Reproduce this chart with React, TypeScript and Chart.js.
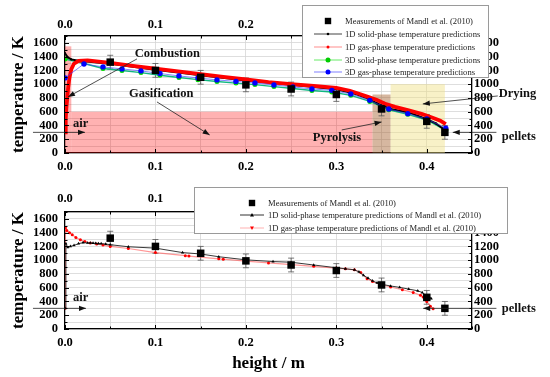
import React, { useEffect, useRef } from 'react';
import { Chart, registerables } from 'chart.js';

Chart.register(...registerables);

// ---------------- data ----------------
const measX = [0.05, 0.1, 0.15, 0.2, 0.25, 0.3, 0.35, 0.4, 0.42];
const measT = [1320, 1200, 1100, 990, 930, 850, 640, 460, 300];
const measErr = [100, 100, 100, 100, 100, 100, 100, 100, 100];

// top chart: own predictions
const solid1dX = [0, 0.003, 0.007, 0.015, 0.05, 0.1, 0.15, 0.2, 0.25, 0.3, 0.32, 0.335, 0.345, 0.36, 0.38, 0.4, 0.41, 0.42];
const solid1dT = [1450, 1390, 1360, 1340, 1295, 1210, 1130, 1055, 990, 925, 865, 790, 720, 640, 590, 490, 430, 335];

const gas1dX = [0, 0.0008, 0.0015, 0.0025, 0.0035, 0.005, 0.007, 0.01, 0.015, 0.025, 0.05, 0.075, 0.1, 0.125, 0.15, 0.175, 0.2, 0.225, 0.25, 0.275, 0.3, 0.315, 0.325, 0.335, 0.345, 0.355, 0.365, 0.38, 0.395, 0.405, 0.415, 0.421];
const gas1dT = [300, 500, 650, 800, 950, 1100, 1220, 1300, 1340, 1345, 1310, 1265, 1225, 1185, 1145, 1105, 1069, 1030, 1000, 975, 945, 905, 860, 815, 770, 710, 670, 620, 565, 520, 470, 420];

const gas3dX = [0, 0.021, 0.042, 0.063, 0.084, 0.105, 0.126, 0.147, 0.168, 0.189, 0.21, 0.231, 0.252, 0.273, 0.295, 0.316, 0.337, 0.358, 0.379, 0.4, 0.421];
const gas3dT = [1091, 1294, 1251, 1222, 1193, 1155, 1120, 1091, 1062, 1040, 1018, 989, 960, 931, 910, 858, 765, 640, 572, 494, 362];

const solid3dX = [0, 0.021, 0.042, 0.063, 0.084, 0.105, 0.126, 0.147, 0.168, 0.189, 0.21, 0.231, 0.252, 0.273, 0.295, 0.316, 0.337, 0.358, 0.379, 0.4, 0.421];
const solid3dT = [1365, 1300, 1228, 1198, 1168, 1130, 1096, 1066, 1038, 1016, 994, 965, 937, 908, 886, 838, 750, 628, 562, 480, 330];

// bottom chart: predictions of Mandl et al.
const mandlSolidX = [0, 0.001, 0.003, 0.006, 0.01, 0.015, 0.02, 0.025, 0.028, 0.031, 0.034, 0.037, 0.04, 0.045, 0.05, 0.07, 0.1, 0.13, 0.15, 0.17, 0.2, 0.23, 0.25, 0.275, 0.3, 0.31, 0.32, 0.325, 0.33, 0.335, 0.34, 0.345, 0.35, 0.36, 0.37, 0.38, 0.39, 0.395, 0.4, 0.403, 0.405];
const mandlSolidT = [300, 1240, 1185, 1200, 1215, 1240, 1255, 1250, 1250, 1248, 1245, 1242, 1240, 1235, 1225, 1195, 1175, 1110, 1090, 1050, 1005, 980, 970, 930, 890, 875, 860, 830, 780, 740, 700, 670, 650, 625, 605, 580, 555, 530, 480, 460, 440];

const mandlGasX = [0, 0.0005, 0.002, 0.005, 0.008, 0.012, 0.017, 0.022, 0.028, 0.035, 0.042, 0.05, 0.07, 0.1, 0.133, 0.137, 0.17, 0.175, 0.2, 0.225, 0.25, 0.275, 0.3, 0.31, 0.32, 0.327, 0.334, 0.34, 0.348, 0.36, 0.373, 0.385, 0.393, 0.396, 0.4, 0.404, 0.407];
const mandlGasT = [300, 1470, 1430, 1400, 1370, 1330, 1295, 1270, 1250, 1236, 1220, 1200, 1170, 1110, 1065, 1060, 1020, 1015, 985, 960, 935, 910, 885, 875, 860, 820, 730, 690, 650, 610, 570, 530, 490, 465, 400, 330, 295];

// zones (top chart)
const zoneX0 = [0.007, 0, 0.34, 0.36];
const zoneX1 = [0.34, 0.007, 0.36, 0.42];
const zoneTop = [600, 1550, 850, 1000];

// ticks & labels
const xMajor = [0, 0.1, 0.2, 0.3, 0.4];
const xMajorLabels = ['0.0', '0.1', '0.2', '0.3', '0.4'];
const yMajor = [0, 200, 400, 600, 800, 1000, 1200, 1400, 1600];

const topLegendLabels = [
  'Measurements of Mandl et al. (2010)',
  '1D solid-phase temperature predictions',
  '1D gas-phase temperature predictions',
  '3D solid-phase temperature predictions',
  '3D gas-phase temperature predictions',
];
const bottomLegendLabels = [
  'Measurements of Mandl et al. (2010)',
  '1D solid-phase temperature predictions of Mandl et al. (2010)',
  '1D gas-phase temperature predictions of Mandl et al. (2010)',
];

// ---------------- styles ----------------
const FONT = '"Liberation Serif", "Times New Roman", serif';
const GRID = '#d6d6d6';
const zoneColors = ['rgba(255,0,0,0.3)', 'rgba(255,0,0,0.3)', 'rgba(165,95,45,0.45)', 'rgba(240,225,130,0.45)'];

const pts = (xs: number[], ys: number[]) => xs.map((x, i) => ({ x, y: ys[i] }));

const xLabel = (v: any) => {
  const i = xMajor.findIndex((m) => Math.abs(m - Number(v)) < 1e-6);
  return i >= 0 ? xMajorLabels[i] : '';
};
const yLabel = (v: any) => (yMajor.includes(Number(v)) ? String(v) : '');

function makeScales(topH: number, bottomH: number, topPad: number, xTitle: string | null) {
  const tickFont = { family: FONT, size: 12.5, weight: 'bold' as const };
  const titleFont = { family: FONT, size: 17, weight: 'bold' as const };
  const border = { color: '#000', width: 1.2 };
  const xTicks = { stepSize: 0.05, autoSkip: false, maxRotation: 0, color: '#000', font: tickFont, callback: xLabel };
  const yTicks = { stepSize: 100, autoSkip: false, color: '#000', font: tickFont, callback: yLabel };
  return {
    x: {
      type: 'linear', position: 'bottom', min: 0, max: 0.45,
      ticks: { ...xTicks, padding: 6 },
      grid: { color: GRID, lineWidth: 0.8, drawTicks: false },
      border,
      title: xTitle
        ? { display: true, text: xTitle, color: '#000', font: titleFont, padding: { top: 0, bottom: 3 } }
        : { display: false },
      afterFit: (s: any) => { s.height = bottomH; },
    },
    x2: {
      type: 'linear', position: 'top', min: 0, max: 0.45,
      ticks: { ...xTicks, padding: topPad },
      grid: { display: false, drawTicks: false },
      border,
      afterFit: (s: any) => { s.height = topH; },
    },
    y: {
      type: 'linear', position: 'left', min: 0, max: 1700,
      ticks: { ...yTicks, padding: 7 },
      grid: { color: GRID, lineWidth: 0.8, drawTicks: false },
      border,
      title: { display: true, text: 'temperature / K', color: '#000', font: titleFont, padding: { top: 8, bottom: 0 } },
      afterFit: (s: any) => { s.width = 65; },
    },
    y2: {
      type: 'linear', position: 'right', min: 0, max: 1700,
      ticks: { ...yTicks, padding: 2 },
      grid: { display: false, drawTicks: false },
      border,
      afterFit: (s: any) => { s.width = 78; },
    },
  };
}

// ---------------- plugins ----------------
function zonesPlugin() {
  return {
    id: 'zones',
    beforeDatasetsDraw(chart: any) {
      const { ctx, scales: { x, y } } = chart;
      ctx.save();
      zoneX0.forEach((x0, i) => {
        const px0 = x.getPixelForValue(x0);
        const px1 = x.getPixelForValue(zoneX1[i]);
        const py0 = y.getPixelForValue(zoneTop[i]);
        const py1 = y.getPixelForValue(0);
        ctx.fillStyle = zoneColors[i];
        ctx.fillRect(px0, py0, px1 - px0, py1 - py0);
      });
      ctx.restore();
    },
  };
}

function errorBarsPlugin() {
  return {
    id: 'errbars',
    beforeDatasetsDraw(chart: any) {
      const { ctx, scales: { x, y } } = chart;
      ctx.save();
      ctx.strokeStyle = '#555';
      ctx.lineWidth = 0.8;
      measX.forEach((mx, i) => {
        const px = x.getPixelForValue(mx);
        const lo = y.getPixelForValue(measT[i] - measErr[i]);
        const hi = y.getPixelForValue(measT[i] + measErr[i]);
        ctx.beginPath();
        ctx.moveTo(px, lo); ctx.lineTo(px, hi);
        ctx.moveTo(px - 3, lo); ctx.lineTo(px + 3, lo);
        ctx.moveTo(px - 3, hi); ctx.lineTo(px + 3, hi);
        ctx.stroke();
      });
      ctx.restore();
    },
  };
}

type Note = { text?: string; tx?: number; ty?: number; arrow?: number[]; head?: boolean };

function annotationsPlugin(notes: Note[]) {
  return {
    id: 'notes',
    afterDatasetsDraw(chart: any) {
      const { ctx, scales: { x, y } } = chart;
      ctx.save();
      for (const n of notes) {
        if (n.arrow) {
          const [ax0, ay0, ax1, ay1] = n.arrow;
          const p0x = x.getPixelForValue(ax0), p0y = y.getPixelForValue(ay0);
          const p1x = x.getPixelForValue(ax1), p1y = y.getPixelForValue(ay1);
          ctx.strokeStyle = '#222';
          ctx.fillStyle = '#111';
          ctx.lineWidth = 0.8;
          ctx.beginPath();
          ctx.moveTo(p0x, p0y); ctx.lineTo(p1x, p1y);
          ctx.stroke();
          if (n.head !== false) {
            const ang = Math.atan2(p1y - p0y, p1x - p0x);
            const L = 7, W = 2.6;
            ctx.beginPath();
            ctx.moveTo(p1x, p1y);
            ctx.lineTo(p1x - L * Math.cos(ang) + W * Math.sin(ang), p1y - L * Math.sin(ang) - W * Math.cos(ang));
            ctx.lineTo(p1x - L * Math.cos(ang) - W * Math.sin(ang), p1y - L * Math.sin(ang) + W * Math.cos(ang));
            ctx.closePath();
            ctx.fill();
          }
        }
        if (n.text) {
          ctx.font = `bold 12.5px ${FONT}`;
          ctx.fillStyle = '#111';
          ctx.textAlign = 'left';
          ctx.textBaseline = 'middle';
          ctx.fillText(n.text, x.getPixelForValue(n.tx), y.getPixelForValue(n.ty));
        }
      }
      ctx.restore();
    },
  };
}

const inwardTicksPlugin = {
  id: 'inwardTicks',
  afterDraw(chart: any) {
    const { ctx, chartArea: a, scales } = chart;
    ctx.save();
    ctx.strokeStyle = '#000';
    ctx.lineWidth = 1;
    ctx.beginPath();
    scales.x.ticks.forEach((t: any) => {
      const px = Math.round(scales.x.getPixelForValue(t.value)) + 0.5;
      const len = t.label ? 4 : 2.5;
      ctx.moveTo(px, a.bottom); ctx.lineTo(px, a.bottom - len);
      ctx.moveTo(px, a.top); ctx.lineTo(px, a.top + len);
    });
    scales.y.ticks.forEach((t: any) => {
      const py = Math.round(scales.y.getPixelForValue(t.value)) + 0.5;
      const len = t.label ? 4 : 2.5;
      ctx.moveTo(a.left, py); ctx.lineTo(a.left + len, py);
      ctx.moveTo(a.right, py); ctx.lineTo(a.right - len, py);
    });
    ctx.stroke();
    ctx.restore();
  },
};

type LegendEntry = { label: string; line?: string; marker: string; color: string; size: number };

function drawMarker(ctx: CanvasRenderingContext2D, kind: string, cx: number, cy: number, s: number, color: string) {
  ctx.fillStyle = color;
  ctx.beginPath();
  if (kind === 'rect') {
    ctx.rect(cx - s, cy - s, 2 * s, 2 * s);
  } else if (kind === 'triangle') {
    ctx.moveTo(cx, cy - s); ctx.lineTo(cx + s, cy + s * 0.8); ctx.lineTo(cx - s, cy + s * 0.8); ctx.closePath();
  } else if (kind === 'triangleDown') {
    ctx.moveTo(cx, cy + s); ctx.lineTo(cx + s, cy - s * 0.8); ctx.lineTo(cx - s, cy - s * 0.8); ctx.closePath();
  } else {
    ctx.arc(cx, cy, s, 0, Math.PI * 2);
  }
  ctx.fill();
}

function legendPlugin(box: number[], rows: number[], lineX0: number, lineX1: number, textX: number, entries: LegendEntry[]) {
  return {
    id: 'boxLegend',
    afterDraw(chart: any) {
      const { ctx } = chart;
      ctx.save();
      ctx.fillStyle = '#fff';
      ctx.fillRect(box[0], box[1], box[2], box[3]);
      ctx.strokeStyle = '#9a9a9a';
      ctx.lineWidth = 1;
      ctx.strokeRect(box[0] + 0.5, box[1] + 0.5, box[2], box[3]);
      entries.forEach((e, i) => {
        const cy = rows[i];
        if (e.line) {
          ctx.strokeStyle = e.line;
          ctx.lineWidth = 1;
          ctx.beginPath();
          ctx.moveTo(lineX0, cy); ctx.lineTo(lineX1, cy);
          ctx.stroke();
        }
        drawMarker(ctx, e.marker, (lineX0 + lineX1) / 2, cy, e.size, e.color);
        ctx.font = `8.6px ${FONT}`;
        ctx.fillStyle = '#222';
        ctx.textAlign = 'left';
        ctx.textBaseline = 'middle';
        ctx.fillText(e.label, textX, cy + 0.5);
      });
      ctx.restore();
    },
  };
}

// ---------------- configs ----------------
function topConfig(): any {
  const notes: Note[] = [
    { text: 'Combustion', tx: 0.077, ty: 1440, arrow: [0.0796, 1367, 0.0033, 815] },
    { text: 'Gasification', tx: 0.0707, ty: 858, arrow: [0.1017, 742, 0.16, 262] },
    { text: 'Pyrolysis', tx: 0.274, ty: 218, arrow: [0.306, 335, 0.35, 451] },
    { text: 'Drying', tx: 0.4796, ty: 858, arrow: [0.4785, 829, 0.3956, 713] },
    { text: 'air', tx: 0.0088, ty: 422, arrow: [-0.0354, 300, 0.0221, 300] },
    { text: 'pellets', tx: 0.483, ty: 237, arrow: [0.477, 300, 0.4287, 300] },
  ];
  const entries: LegendEntry[] = [
    { label: topLegendLabels[0], marker: 'rect', color: '#000', size: 3.2 },
    { label: topLegendLabels[1], line: '#444', marker: 'circle', color: '#000', size: 1.3 },
    { label: topLegendLabels[2], line: 'rgba(255,0,0,0.45)', marker: 'circle', color: '#f00', size: 1.5 },
    { label: topLegendLabels[3], line: 'rgba(0,220,0,0.6)', marker: 'circle', color: '#0c0', size: 2.5 },
    { label: topLegendLabels[4], line: 'rgba(0,0,255,0.5)', marker: 'circle', color: '#00f', size: 2.5 },
  ];
  return {
    type: 'line',
    data: {
      datasets: [
        { label: topLegendLabels[0], data: pts(measX, measT), showLine: false, pointStyle: 'rect', pointRadius: 5.3, pointBackgroundColor: '#000', pointBorderWidth: 0, borderColor: '#000' },
        { label: topLegendLabels[4], data: pts(gas3dX, gas3dT), borderColor: 'rgba(60,60,255,0.8)', borderWidth: 0.8, pointRadius: 2.7, pointBackgroundColor: '#0000ff', pointBorderWidth: 0 },
        { label: topLegendLabels[2], data: pts(gas1dX, gas1dT), borderColor: '#ff0000', borderWidth: 3.8, pointRadius: 0 },
        { label: topLegendLabels[1], data: pts(solid1dX, solid1dT), borderColor: '#000', borderWidth: 2, pointRadius: 1.1, pointBackgroundColor: '#000', pointBorderWidth: 0 },
        { label: topLegendLabels[3], data: pts(solid3dX, solid3dT), borderColor: '#10b880', borderWidth: 1.4, pointRadius: 2.5, pointBackgroundColor: '#00dd00', pointBorderWidth: 0 },
      ],
    },
    options: {
      responsive: false,
      animation: false,
      layout: { padding: 0 },
      elements: { line: { tension: 0 } },
      plugins: { legend: { display: false }, tooltip: { enabled: false } },
      scales: makeScales(36, 27, 4, null),
    },
    plugins: [
      zonesPlugin(),
      errorBarsPlugin(),
      annotationsPlugin(notes),
      inwardTicksPlugin,
      legendPlugin([302, 5, 186, 72], [21, 34, 47, 60, 72], 314, 342, 345, entries),
    ],
  };
}

function bottomConfig(): any {
  const notes: Note[] = [
    { text: 'air', tx: 0.0088, ty: 451, arrow: [-0.0354, 300, 0.0232, 300] },
    { text: 'pellets', tx: 0.483, ty: 300, arrow: [0.477, 300, 0.396, 300] },
  ];
  const entries: LegendEntry[] = [
    { label: bottomLegendLabels[0], marker: 'rect', color: '#000', size: 3.2 },
    { label: bottomLegendLabels[1], line: '#333', marker: 'triangle', color: '#000', size: 2 },
    { label: bottomLegendLabels[2], line: 'rgba(255,80,80,0.45)', marker: 'triangleDown', color: '#f00', size: 2 },
  ];
  return {
    type: 'line',
    data: {
      datasets: [
        { label: bottomLegendLabels[0], data: pts(measX, measT), showLine: false, pointStyle: 'rect', pointRadius: 5.3, pointBackgroundColor: '#000', pointBorderWidth: 0, borderColor: '#000' },
        { label: bottomLegendLabels[1], data: pts(mandlSolidX, mandlSolidT), borderColor: '#222', borderWidth: 0.9, pointStyle: 'triangle', pointRadius: 1.8, pointBackgroundColor: '#000', pointBorderWidth: 0 },
        { label: bottomLegendLabels[2], data: pts(mandlGasX, mandlGasT), borderColor: 'rgba(255,80,80,0.6)', borderWidth: 1.2, pointRadius: 1.5, pointBackgroundColor: '#f00', pointBorderWidth: 0 },
      ],
    },
    options: {
      responsive: false,
      animation: false,
      layout: { padding: 0 },
      elements: { line: { tension: 0 } },
      plugins: { legend: { display: false }, tooltip: { enabled: false } },
      scales: makeScales(32, 48, 6, 'height / m'),
    },
    plugins: [
      errorBarsPlugin(),
      annotationsPlugin(notes),
      inwardTicksPlugin,
      legendPlugin([194, 7, 313, 46], [23, 35, 48], 240, 264, 268, entries),
    ],
  };
}

export default function App() {
  const topRef = useRef<HTMLCanvasElement>(null);
  const botRef = useRef<HTMLCanvasElement>(null);
  useEffect(() => {
    const c1 = new Chart(topRef.current as HTMLCanvasElement, topConfig());
    const c2 = new Chart(botRef.current as HTMLCanvasElement, bottomConfig());
    return () => {
      c1.destroy();
      c2.destroy();
    };
  }, []);
  return (
    <div style={{ position: 'absolute', left: 0, top: 0, width: 550, height: 377, background: '#fff', overflow: 'hidden' }}>
      <canvas ref={topRef} width={550} height={180} style={{ position: 'absolute', left: 0, top: 0 }} />
      <canvas ref={botRef} width={550} height={197} style={{ position: 'absolute', left: 0, top: 180 }} />
    </div>
  );
}
